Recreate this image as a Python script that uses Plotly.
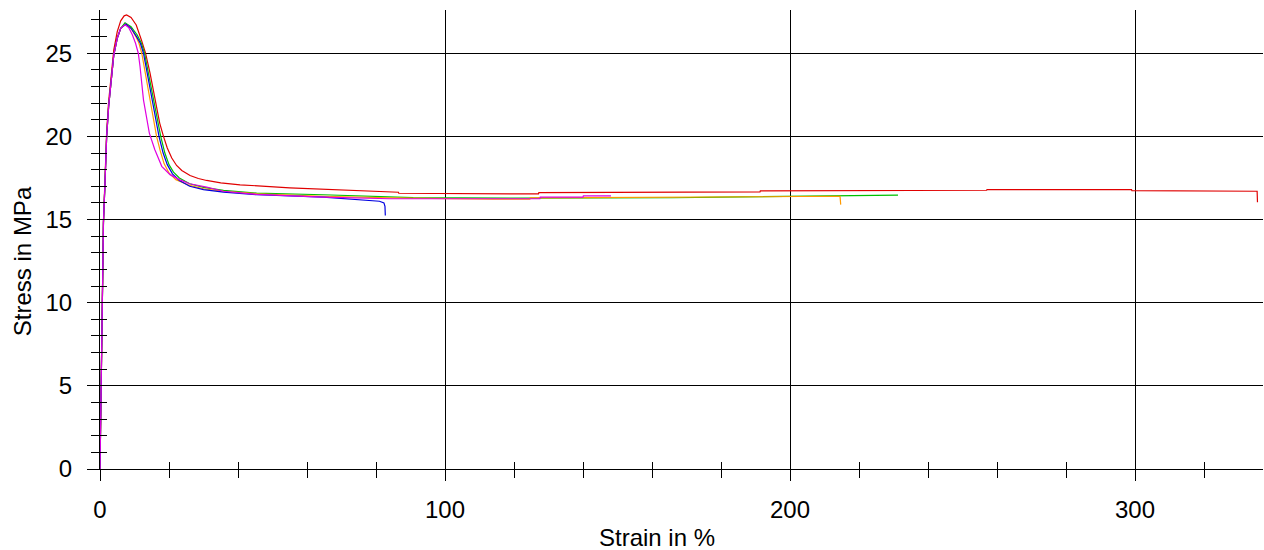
import plotly.graph_objects as go

# ---------------- data (strain in %, stress in MPa) ----------------
red_strain = [0, 0.3, 0.68, 1.0, 1.45, 1.93, 2.5, 3.1, 4.0, 5.0, 6.0, 7.0, 7.7, 9.0, 10.5, 12.0,
              13.2, 14.5, 16.0, 17.3, 18.4, 19.5, 20.8, 22.2, 23.7, 26.1, 28.5, 30.9, 35.0, 40.6,
              55.0, 74.4, 86.5, 86.6, 111.6, 111.7, 127.1, 127.2, 155.1, 155.2, 191.3, 191.4,
              215.7, 215.8, 257.0, 257.1, 299.0, 299.1, 330.0, 330.1, 335.4, 335.5]
red_stress = [0, 5, 10, 14.9, 17.4, 20.3, 22.1, 23.5, 25.2, 26.3, 26.95, 27.25, 27.3, 27.15, 26.7, 25.8,
              25.0, 23.8, 22.1, 20.8, 20.0, 19.3, 18.7, 18.25, 17.95, 17.65, 17.47, 17.35, 17.2, 17.09,
              16.91, 16.72, 16.64, 16.58, 16.58, 16.54, 16.54, 16.62, 16.62, 16.66, 16.66, 16.72,
              16.72, 16.76, 16.76, 16.80, 16.80, 16.74, 16.74, 16.70, 16.70, 16.04]

green_strain = [0, 0.3, 0.68, 1.0, 1.45, 1.93, 2.5, 3.1, 4.0, 5.0, 6.0, 7.25, 9.0, 10.8, 12.0, 12.9,
                14.3, 15.9, 17.6, 18.8, 20.0, 21.3, 23.0, 26.0, 30.0, 35.8, 45.4, 64.7, 84.0, 90.8,
                120.0, 150.0, 166.0, 180.0, 191.0, 200.0, 211.0, 231.3]
green_stress = [0, 5, 10, 14.8, 17.2, 20.0, 21.8, 23.2, 24.9, 25.9, 26.5, 26.83, 26.6, 26.1, 25.6, 25.0,
                23.5, 21.6, 20.0, 19.0, 18.3, 17.85, 17.5, 17.15, 16.93, 16.75, 16.59, 16.49, 16.37, 16.32,
                16.29, 16.29, 16.31, 16.35, 16.38, 16.40, 16.45, 16.47]

orange_strain = [0, 0.3, 0.68, 1.0, 1.45, 1.93, 2.5, 3.1, 4.0, 5.0, 6.0, 7.5, 9.0, 10.4, 11.3, 12.1,
                 13.5, 15.0, 16.4, 17.5, 18.6, 20.0, 22.0, 26.0, 30.0, 35.8, 45.4, 64.7, 84.0, 114.0,
                 124.6, 124.7, 166.0, 191.0, 214.5, 214.7]
orange_stress = [0, 5, 10, 14.8, 17.2, 20.0, 21.8, 23.2, 24.9, 25.9, 26.5, 26.76, 26.5, 26.0, 25.6, 25.0,
                 23.3, 21.5, 20.0, 19.1, 18.35, 17.8, 17.4, 17.05, 16.85, 16.69, 16.55, 16.40, 16.30, 16.23,
                 16.23, 16.30, 16.32, 16.37, 16.40, 15.9]

blue_strain = [0, 0.3, 0.68, 1.0, 1.45, 1.93, 2.5, 3.1, 4.0, 5.0, 6.0, 7.5, 9.0, 10.6, 11.7, 12.6,
               14.0, 15.5, 17.1, 18.3, 19.5, 21.0, 23.0, 26.0, 30.0, 35.8, 45.4, 64.7, 78.2, 81.0,
               82.3, 82.6, 82.7]
blue_stress = [0, 5, 10, 14.8, 17.2, 20.0, 21.8, 23.2, 24.9, 25.9, 26.5, 26.76, 26.5, 26.0, 25.6, 25.0,
               23.5, 21.8, 20.0, 19.0, 18.3, 17.75, 17.35, 17.0, 16.8, 16.65, 16.49, 16.35, 16.15, 16.1,
               16.0, 15.8, 15.24]

magenta_strain = [0, 0.3, 0.68, 1.0, 1.45, 1.93, 2.5, 3.1, 4.0, 5.0, 6.0, 7.25, 8.3, 9.4, 10.3, 11.1,
                  11.6, 12.6, 14.3, 15.9, 17.9, 20.3, 23.0, 26.0, 30.9, 35.8, 45.4, 64.7, 84.0, 100.0,
                  127.5, 127.6, 140.0, 140.1, 148.1]
magenta_stress = [0, 5, 10, 14.8, 17.2, 20.0, 21.8, 23.2, 24.9, 25.9, 26.5, 26.71, 26.55, 26.1, 25.6, 25.0,
                  24.2, 22.2, 20.2, 19.2, 18.2, 17.7, 17.4, 17.15, 16.95, 16.7, 16.51, 16.35, 16.25, 16.25,
                  16.25, 16.35, 16.35, 16.42, 16.42]

series = [
    ("red", red_strain, red_stress, "#e00000"),
    ("green", green_strain, green_stress, "#00c000"),
    ("orange", orange_strain, orange_stress, "#ff9a00"),
    ("blue", blue_strain, blue_stress, "#0000e0"),
    ("magenta", magenta_strain, magenta_stress, "#e000e0"),
]
for name, xs, ys, _ in series:
    assert len(xs) == len(ys), name

x_range = [0, 337.1]
y_range = [0, 27.6]
FONT = "Liberation Sans, Arial, sans-serif"

fig = go.Figure()
for name, xs, ys, col in series:
    fig.add_trace(go.Scatter(x=xs, y=ys, mode="lines", name=name,
                             line=dict(color=col, width=1.2), hoverinfo="skip"))

axis_common = dict(showline=True, linecolor="black", linewidth=1, zeroline=False,
                   tickfont=dict(family=FONT, size=24, color="black"), tickcolor="black")

fig.update_layout(
    width=1264, height=550,
    margin=dict(l=100, r=1, t=10, b=81),
    paper_bgcolor="white", plot_bgcolor="white",
    showlegend=False,
    font=dict(family=FONT, color="black"),
    xaxis=dict(range=x_range, tick0=0, dtick=100, ticks="outside", ticklen=11,
               showgrid=True, gridcolor="black", gridwidth=1,
               minor=dict(dtick=20, tick0=0, ticks="outside", ticklen=8, tickcolor="black", showgrid=False),
               ticklabelstandoff=8, **axis_common),
    yaxis=dict(range=y_range, tick0=0, dtick=5, ticks="outside", ticklen=12,
               showgrid=True, gridcolor="black", gridwidth=1,
               minor=dict(dtick=1, tick0=0, ticks="outside", ticklen=8, tickcolor="black", showgrid=False),
               ticklabelstandoff=10, **axis_common),
    xaxis2=dict(range=x_range, overlaying="x", anchor="y", side="bottom", tick0=0, dtick=20,
                ticks="inside", ticklen=7, tickcolor="black", showticklabels=False,
                showgrid=False, zeroline=False, showline=False),
    yaxis2=dict(range=y_range, overlaying="y", anchor="x", side="left", tick0=0, dtick=1,
                ticks="inside", ticklen=7, tickcolor="black", showticklabels=False,
                showgrid=False, zeroline=False, showline=False),
)

# empty trace that activates the overlay tick axes
fig.add_trace(go.Scatter(x=[None], y=[None], xaxis="x2", yaxis="y2", showlegend=False, hoverinfo="skip"))

fig.add_annotation(text="Strain in %", xref="paper", yref="paper", x=0.479, y=-0.150,
                   xanchor="center", yanchor="middle", showarrow=False,
                   font=dict(family=FONT, size=24, color="black"))
fig.add_annotation(text="Stress in MPa", xref="paper", yref="paper", x=-0.067, y=0.453,
                   xanchor="center", yanchor="middle", showarrow=False, textangle=-90,
                   font=dict(family=FONT, size=24, color="black"))

fig.write_html("out.html")
